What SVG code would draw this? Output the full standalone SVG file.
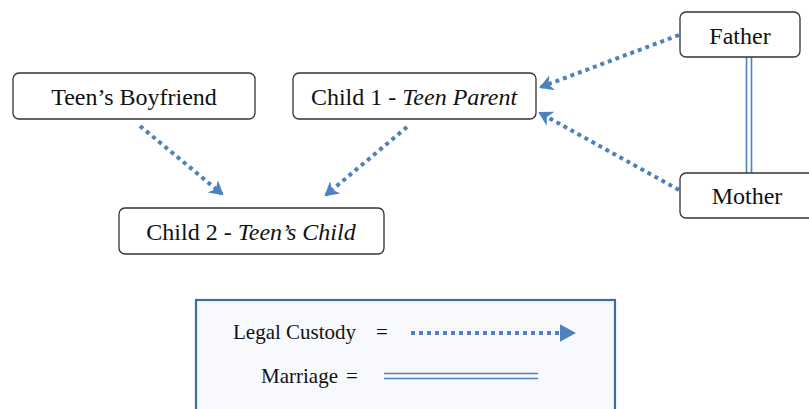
<svg xmlns="http://www.w3.org/2000/svg" width="809" height="409" viewBox="0 0 809 409" font-family="'Liberation Serif', 'Times New Roman', serif">
<style>
.node rect{fill:#fff;stroke:#333;stroke-width:1.3}
text{font-family:"Liberation Serif","Times New Roman",serif;fill:#111}
.node text{font-size:24px;text-anchor:middle}
.dot{stroke:#4f81bd;stroke-width:4;stroke-dasharray:4 4;fill:none;marker-end:url(#ah)}
.mar{stroke:#4f81bd;stroke-width:1.6;fill:none}
</style>
<defs>
<marker id="ah" markerWidth="4" markerHeight="4" refX="3" refY="2" orient="auto" markerUnits="strokeWidth">
<path d="M0,0 L3.5,2 L0,4 L1,2 Z" fill="#4f81bd"/>
</marker>
<marker id="ah2" markerWidth="6" markerHeight="6" refX="3" refY="3" orient="auto" markerUnits="strokeWidth">
<path d="M0,0.8 L4,3 L0,5.2 Z" fill="#4f81bd"/>
</marker>
</defs>
<rect width="809" height="409" fill="#fff"/>
<g id="connectors">
<path class="dot" d="M140,126 L222,194"/>
<path class="dot" d="M407,127 L326,195"/>
<path class="dot" d="M679,35 L541,87"/>
<path class="dot" d="M679,190 L540,113"/>
<path class="mar" d="M746.5,57 V173 M751.5,57 V173"/>
</g>
<g id="boyfriend" class="node"><rect x="13" y="73" width="242" height="46" rx="6"/><text x="134" y="105">Teen’s Boyfriend</text></g>
<g id="child1" class="node"><rect x="293" y="73" width="243" height="46" rx="6"/><text x="414" y="105">Child 1 - <tspan font-style="italic">Teen Parent</tspan></text></g>
<g id="child2" class="node"><rect x="119" y="208" width="265" height="46" rx="6"/><text x="251" y="240">Child 2 - <tspan font-style="italic">Teen’s Child</tspan></text></g>
<g id="father" class="node"><rect x="680" y="12" width="120" height="45" rx="6"/><text x="740" y="44">Father</text></g>
<g id="mother" class="node"><rect x="680" y="173" width="135" height="45" rx="6"/><text x="747" y="204">Mother</text></g>
<g id="legend">
<rect x="196" y="300" width="419" height="120" fill="#f7f9fc" stroke="#3b6ea5" stroke-width="2.2"/>
<text x="233" y="339" font-size="21">Legal Custody <tspan x="376">=</tspan></text>
<path d="M411,333 L572,333" stroke="#4f81bd" stroke-width="4" stroke-dasharray="4 4" fill="none" marker-end="url(#ah2)"/>
<text x="261" y="383" font-size="21">Marriage <tspan x="346">=</tspan></text>
<path class="mar" d="M384,373.5 H538 M384,378.5 H538"/>
</g>
</svg>
